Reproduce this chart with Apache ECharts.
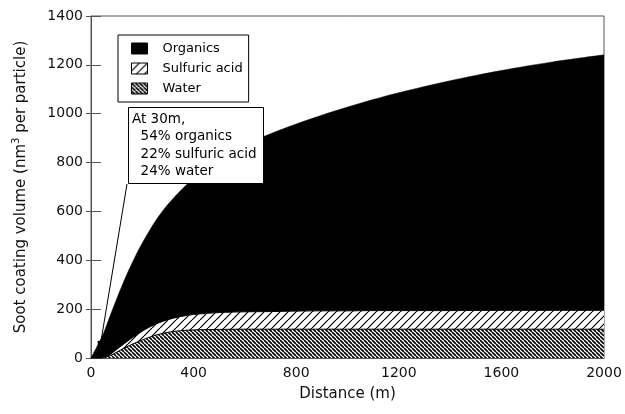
<!DOCTYPE html>
<html>
<head>
<meta charset="utf-8">
<script src="https://cdn.jsdelivr.net/npm/echarts@6/dist/echarts.min.js"></script>
<style>
  html, body { margin: 0; padding: 0; background: #fff; }
  #chart { width: 625px; height: 414px; }
</style>
</head>
<body>
<div id="chart"></div>
<script>
// Distance along the plume (m)
const distance = [0, 10, 20, 30, 40, 50, 75, 100, 125, 150, 175, 200, 250, 300, 350, 400,
                  500, 600, 700, 800, 900, 1000, 1100, 1200, 1400, 1600, 1800, 2000];
// Coating volume of each component (nm^3 per particle), layered water -> sulfuric -> organics
const water    = [0, 0, 0, 0, 0, 2, 10, 24, 38, 51, 63, 74, 93, 105, 112, 115,
                  117, 118, 118, 118, 118, 118, 118, 118, 118, 118, 118, 118];
const sulfuric = [0, 0, 0, 0, 0, 1, 5, 11, 17, 24, 30, 36, 45, 52, 58, 63,
                  69, 71, 72, 74, 75, 75, 76, 76, 76, 77, 77, 77];
const organics = [0, 20, 40, 60, 82, 101, 159, 207, 251, 291, 328, 361, 421, 472, 516, 557,
                  627, 684, 728, 766, 801, 834, 864, 892, 941, 982, 1017, 1046];

const seriesNames = ['Organics', 'Sulfuric acid', 'Water'];
const xTicks = { min: 0, max: 2000, interval: 400 };
const yTicks = { min: 0, max: 1400, interval: 200 };
const noteLines = ['At 30m,', '  54% organics', '  22% sulfuric acid', '  24% water'];
const notePoint = [30, 12];

const FONT = 'DejaVu Sans';

function hatch(size, dir, lw) {
  const c = document.createElement('canvas');
  c.width = c.height = size;
  const ctx = c.getContext('2d');
  ctx.fillStyle = '#fff';
  ctx.fillRect(0, 0, size, size);
  ctx.strokeStyle = '#000';
  ctx.lineWidth = lw;
  ctx.beginPath();
  for (let k = -1; k <= 1; k++) {
    if (dir === '/') {
      ctx.moveTo(k * size, size);
      ctx.lineTo(k * size + size, 0);
    } else {
      ctx.moveTo(k * size, 0);
      ctx.lineTo(k * size + size, size);
    }
  }
  ctx.stroke();
  return c;
}

const sulfPattern = { image: hatch(8, '/', 1.2), repeat: 'repeat' };
const waterPattern = { image: hatch(4, '\\', 1.6), repeat: 'repeat' };

// Running tops of each layer; every area is filled down to the x axis and
// the upper layers are painted first so the lower ones sit on top of them.
const waterTop = water.slice();
const sulfTop = water.map((w, i) => w + sulfuric[i]);
const organicsTop = sulfTop.map((s, i) => s + organics[i]);
const pairs = arr => distance.map((d, i) => [d, arr[i]]);

const chart = echarts.init(document.getElementById('chart'), null, { renderer: 'canvas' });

const axisColor = '#555';
const plainNum = v => String(v);

const option = {
  animation: false,
  backgroundColor: '#fff',
  textStyle: { fontFamily: FONT },
  grid: {
    left: 91, right: 21, top: 16, bottom: 56,
    show: true, borderColor: axisColor, borderWidth: 1, backgroundColor: 'transparent'
  },
  legend: {
    data: seriesNames,
    orient: 'vertical',
    left: 118, top: 35,
    backgroundColor: '#fff',
    borderColor: '#000', borderWidth: 1,
    padding: [7, 6, 7, 13],
    itemWidth: 16, itemHeight: 11, itemGap: 7,
    icon: 'rect',
    itemStyle: { borderColor: '#000', borderWidth: 1 },
    textStyle: { fontFamily: FONT, fontSize: 13, color: '#000', padding: [0, 0, 0, 10] },
    selectedMode: false,
    z: 20
  },
  xAxis: {
    type: 'value',
    min: xTicks.min, max: xTicks.max, interval: xTicks.interval,
    name: 'Distance (m)', nameLocation: 'middle', nameGap: 29,
    nameTextStyle: { fontFamily: FONT, fontSize: 15, color: '#111' },
    axisLine: { show: true, lineStyle: { color: axisColor } },
    axisTick: { show: false },
    splitLine: { show: false },
    axisLabel: { fontFamily: FONT, fontSize: 14, color: '#111', margin: 8, formatter: plainNum }
  },
  yAxis: [{
    type: 'value',
    min: yTicks.min, max: yTicks.max, interval: yTicks.interval,
    name: 'Soot coating volume (nm{sup|3} per particle)',
    nameLocation: 'middle', nameGap: 60,
    nameTextStyle: {
      fontFamily: FONT, fontSize: 15, color: '#111',
      rich: { sup: { fontFamily: FONT, fontSize: 10, color: '#111', verticalAlign: 'top', padding: [0, 0, 10, 0] } }
    },
    axisLine: { show: true, lineStyle: { color: axisColor } },
    axisTick: { show: true, inside: true, length: 10, lineStyle: { color: axisColor } },
    splitLine: { show: false },
    axisLabel: { fontFamily: FONT, fontSize: 14, color: '#111', margin: 8, formatter: plainNum }
  }, {
    type: 'value', position: 'left',
    min: yTicks.min, max: yTicks.max, interval: yTicks.interval,
    axisLine: { show: false },
    axisTick: { show: true, inside: false, length: 5, lineStyle: { color: axisColor } },
    axisLabel: { show: false },
    splitLine: { show: false }
  }],
  series: [
    {
      name: 'Organics', type: 'line', data: pairs(organicsTop),
      showSymbol: false, smooth: 0.3,
      itemStyle: { color: '#000' },
      lineStyle: { color: '#000', width: 0.5 },
      areaStyle: { color: '#000', opacity: 1 },
      z: 2
    },
    {
      name: 'Sulfuric acid', type: 'line', data: pairs(sulfTop),
      showSymbol: false, smooth: 0.3,
      itemStyle: { color: sulfPattern },
      lineStyle: { color: '#000', width: 1 },
      areaStyle: { color: sulfPattern, opacity: 1 },
      z: 3
    },
    {
      name: 'Water', type: 'line', data: pairs(waterTop),
      showSymbol: false, smooth: 0.3,
      itemStyle: { color: waterPattern },
      lineStyle: { color: '#000', width: 1 },
      areaStyle: { color: waterPattern, opacity: 1 },
      z: 4
    }
  ]
};

chart.setOption(option);

// Annotation box with a pointer to the 30 m composition
const boxX = 128, boxY = 107, boxW = 135, boxH = 76;
const tip = chart.convertToPixel({ gridIndex: 0 }, notePoint);
const start = [boxX - 1, boxY + boxH + 1];
const dx = tip[0] - start[0], dy = tip[1] - start[1];
const len = Math.sqrt(dx * dx + dy * dy);
const ux = dx / len, uy = dy / len;
const headLen = 14, headHalf = 3.5;
const base = [tip[0] - ux * headLen, tip[1] - uy * headLen];
const nx = -uy, ny = ux;

const noteText = noteLines.map((t, i) => ({
  type: 'text',
  left: boxX + 4, top: boxY + 5 + i * 17.5,
  style: { text: t, fontFamily: FONT, fontSize: 13.5, fill: '#000' },
  z: 101
}));

chart.setOption({
  graphic: [
    {
      type: 'rect', left: boxX, top: boxY,
      shape: { width: boxW, height: boxH },
      style: { fill: '#fff', stroke: '#000', lineWidth: 1 },
      z: 100
    },
    ...noteText,
    {
      type: 'line',
      shape: { x1: start[0], y1: start[1], x2: base[0], y2: base[1] },
      style: { stroke: '#000', lineWidth: 1 },
      z: 100
    },
    {
      type: 'polygon',
      shape: {
        points: [
          tip,
          [base[0] + nx * headHalf, base[1] + ny * headHalf],
          [base[0] - nx * headHalf, base[1] - ny * headHalf]
        ]
      },
      style: { fill: '#000' },
      z: 100
    }
  ]
});
</script>
</body>
</html>
